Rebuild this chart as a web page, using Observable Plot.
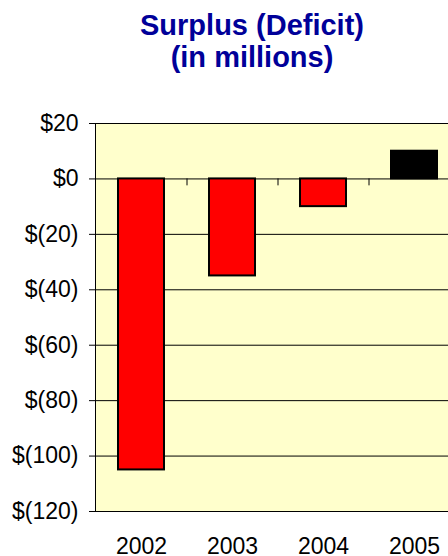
<!DOCTYPE html>
<html>
<head>
<meta charset="utf-8">
<script src="https://cdn.jsdelivr.net/npm/d3@7"></script>
<script src="https://cdn.jsdelivr.net/npm/@observablehq/plot@0.6"></script>
<style>
  html, body { margin: 0; padding: 0; background: #ffffff; overflow: hidden; width: 448px; height: 556px; }
  #title {
    box-sizing: border-box; height: 100px; padding-top: 9px; padding-left: 56px;
    text-align: center; font-family: "Liberation Sans", Arial, sans-serif;
    font-weight: bold; font-size: 29px; line-height: 32px; color: #000099; width: 448px;
  }
  #chart { width: 460px; }
  #chart svg { display: block; max-width: none !important; }
</style>
</head>
<body>
<div id="title">Surplus (Deficit)<br>(in millions)</div>
<div id="chart"></div>
<script>
const years = ["2002", "2003", "2004", "2005"];
const values = [-105, -35, -10, 10];
const yTicks = [20, 0, -20, -40, -60, -80, -100, -120];

const data = years.map((year, i) => ({year, value: values[i]}));
const fmt = d => d < 0 ? `$(${-d})` : `$${d}`;

const chart = Plot.plot({
  width: 460,
  height: 456,
  marginTop: 23,
  marginBottom: 45,
  marginLeft: 95,
  marginRight: 1,
  style: {fontFamily: "'Liberation Sans', Arial, sans-serif", fontSize: "23px", color: "#000", background: "transparent", overflow: "visible", maxWidth: "none"},
  x: {domain: years, paddingInner: 0.5, paddingOuter: 0.25, label: null},
  y: {domain: [-120, 20], label: null},
  marks: [
    Plot.frame({fill: "#ffffcc", stroke: "none"}),
    Plot.ruleY(yTicks, {stroke: "#000", strokeWidth: 1}),
    Plot.frame({anchor: "left", stroke: "#000"}),
    Plot.barY(data, {x: "year", y: "value", fill: d => d.value < 0 ? "#ff0000" : "#000000", stroke: "#000", strokeWidth: 2}),
    Plot.ruleX(years.slice(1), {x: d => d, y1: 0, y2: -2.5, dx: -45.5, stroke: "#000"}),
    Plot.axisY({ticks: yTicks, tickSize: 6, tickPadding: 11, tickFormat: fmt, fontSize: 23, label: null}),
    Plot.axisX({tickSize: 0, tickPadding: 26, fontSize: 23, label: null})
  ]
});
document.getElementById("chart").appendChild(chart);
</script>
</body>
</html>
